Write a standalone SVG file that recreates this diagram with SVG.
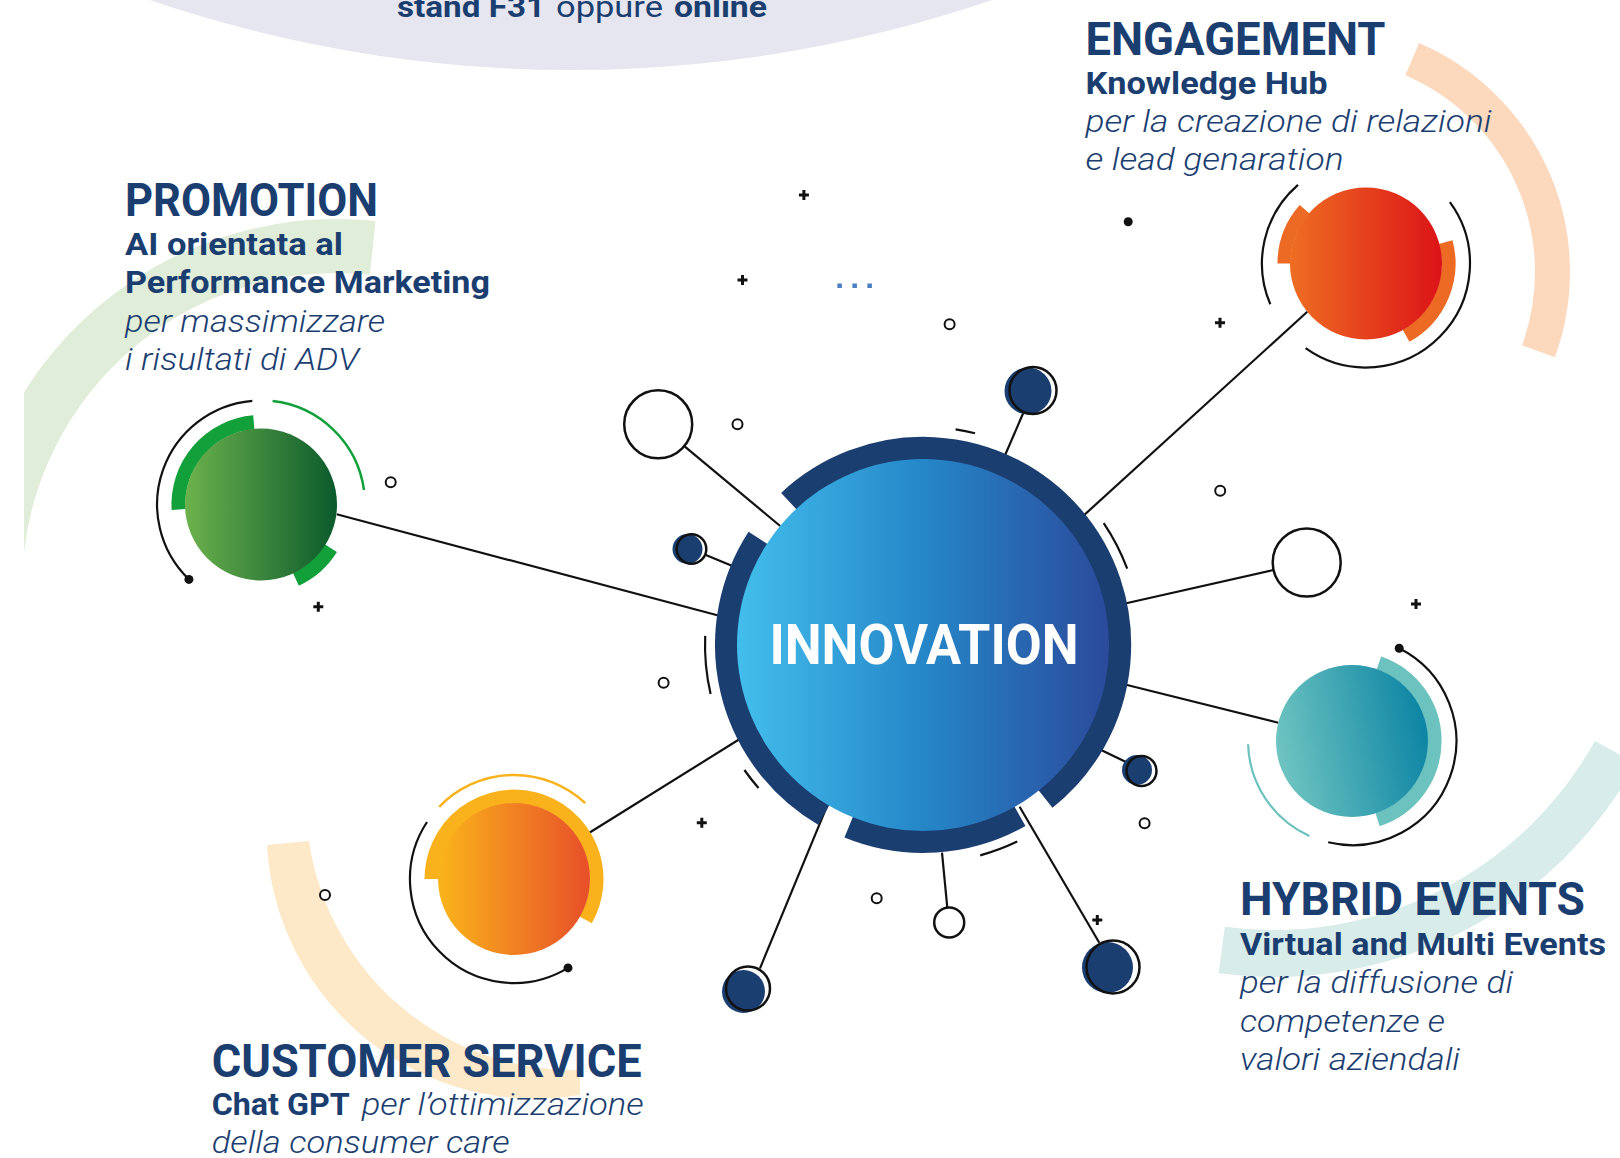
<svg xmlns="http://www.w3.org/2000/svg" width="1620" height="1158" viewBox="0 0 1620 1158">
<defs>
  <linearGradient id="gInnovation" x1="0" y1="0" x2="1" y2="0">
    <stop offset="0" stop-color="#43beec"/>
    <stop offset="0.5" stop-color="#2587c8"/>
    <stop offset="1" stop-color="#2b4a9b"/>
  </linearGradient>
  <linearGradient id="gPromo" x1="0" y1="0" x2="1" y2="0">
    <stop offset="0" stop-color="#6cb24d"/>
    <stop offset="1" stop-color="#0b5a2c"/>
  </linearGradient>
  <linearGradient id="gEngage" x1="0" y1="0" x2="1" y2="0">
    <stop offset="0" stop-color="#ee6e22"/>
    <stop offset="1" stop-color="#dc1318"/>
  </linearGradient>
  <linearGradient id="gHybrid" x1="0" y1="0.6" x2="1" y2="0.4">
    <stop offset="0" stop-color="#70c5c1"/>
    <stop offset="1" stop-color="#0c84a4"/>
  </linearGradient>
  <linearGradient id="gCustomer" x1="0" y1="0" x2="1" y2="0">
    <stop offset="0" stop-color="#fab51a"/>
    <stop offset="1" stop-color="#e74f2a"/>
  </linearGradient>
  <clipPath id="clipLeft"><rect x="24" y="0" width="1596" height="1158"/></clipPath>
  <path id="plus" d="M-5 0H5M0-5V5"/>
</defs>
<style>
  text{font-family:Roboto,"Liberation Sans",sans-serif;fill:#1b3e70}
  .ttl{font-weight:700;font-size:46px}
  .sub{font-weight:700;font-size:32px}
  .desc{font-weight:300;font-style:italic;font-size:32px}
  .line{stroke:#111;stroke-width:2.2;fill:none}
  .thin{stroke:#111;stroke-width:2.2;fill:none}
  .ring{stroke:#1b3e70;stroke-width:23;fill:none}
  .open{fill:#fff;stroke:#111;stroke-width:2.5}
  .dark{fill:#1b3e70}
  .outline{fill:none;stroke:#111;stroke-width:2.5}
  .ring-o{fill:#fff;stroke:#111;stroke-width:2}
  .pl{stroke:#111;stroke-width:3}
  .blk{fill:#111}
</style>

<!-- soft background bands -->
<g id="background">
  <rect x="0" y="0" width="1620" height="1158" fill="#fff"/>
  <circle cx="571" cy="-1231" r="1301" fill="#e5e6ef"/>
  <path d="M372.7 247.9A342 342 0 0 0 -5 588" stroke="#e0edd9" stroke-width="54" fill="none" clip-path="url(#clipLeft)"/>
  <path d="M1412.2 59.2A231.5 231.5 0 0 1 1538.5 351.2" stroke="#fcd9bd" stroke-width="35" fill="none"/>
  <path d="M267 845A268.5 268.5 0 0 0 580 1095L580 1070A267.6 267.6 0 0 1 309 841Z" fill="#fde8c8"/>
  <path d="M1615.5 752.3A390.5 390.5 0 0 1 1221.7 950" stroke="#d8ecea" stroke-width="47" fill="none"/>
  <text y="17" font-size="30"><tspan x="397" font-weight="700" textLength="148" lengthAdjust="spacingAndGlyphs">stand F31</tspan><tspan x="556" font-weight="400" textLength="107" lengthAdjust="spacingAndGlyphs">oppure</tspan><tspan x="674" font-weight="700" textLength="93" lengthAdjust="spacingAndGlyphs">online</tspan></text>
</g>

<!-- scattered decoration -->
<g id="decor">
  <circle class="ring-o" cx="390.7" cy="482.3" r="5"/>
  <circle class="ring-o" cx="737.5" cy="424.3" r="5"/>
  <circle class="ring-o" cx="949.6" cy="324.3" r="5"/>
  <circle class="ring-o" cx="1220.2" cy="490.8" r="5"/>
  <circle class="ring-o" cx="663.6" cy="682.7" r="5"/>
  <circle class="ring-o" cx="1144.6" cy="823.3" r="5"/>
  <circle class="ring-o" cx="876.7" cy="898.3" r="5"/>
  <circle class="ring-o" cx="325" cy="895" r="5"/>
  <circle class="blk" cx="1128.2" cy="221.7" r="4.5"/>
  <use href="#plus" class="pl" x="803.9" y="195"/>
  <use href="#plus" class="pl" x="742.5" y="280"/>
  <use href="#plus" class="pl" x="1220" y="322.7"/>
  <use href="#plus" class="pl" x="318.3" y="606.7"/>
  <use href="#plus" class="pl" x="701.8" y="822.7"/>
  <use href="#plus" class="pl" x="1097.3" y="920"/>
  <use href="#plus" class="pl" x="1416" y="604"/>
  <rect x="837.4" y="283.5" width="4.5" height="4.5" fill="#4a7fc1"/>
  <rect x="852.4" y="283.5" width="4.5" height="4.5" fill="#4a7fc1"/>
  <rect x="867.4" y="283.5" width="4.5" height="4.5" fill="#4a7fc1"/>
</g>

<!-- connectors -->
<g id="connectors">
  <line class="line" x1="336.7" y1="514.3" x2="739" y2="621"/>
  <line class="line" x1="684.3" y1="446.1" x2="780.2" y2="526"/>
  <line class="line" x1="705.2" y1="554.7" x2="751.2" y2="573.8"/>
  <line class="line" x1="1023.7" y1="412" x2="996.8" y2="474.3"/>
  <line class="line" x1="1069.6" y1="528.3" x2="1307.3" y2="311.7"/>
  <line class="line" x1="1273.3" y1="570" x2="1110.7" y2="606.7"/>
  <line class="line" x1="1107" y1="680" x2="1278.3" y2="722.7"/>
  <line class="line" x1="1084" y1="741.7" x2="1128.6" y2="763.3"/>
  <line class="line" x1="1019.6" y1="806.7" x2="1099.3" y2="942.7"/>
  <line class="line" x1="942" y1="852.7" x2="947.3" y2="907.7"/>
  <line class="line" x1="826.8" y1="806.7" x2="760" y2="968.3"/>
  <line class="line" x1="757" y1="728.3" x2="579.3" y2="839"/>
</g>

<!-- small satellite nodes -->
<g id="sat-1"><circle class="open" cx="658.2" cy="424.3" r="34"/></g>
<g id="sat-2"><circle class="dark" cx="687.5" cy="549" r="15"/><circle class="outline" cx="691.5" cy="549" r="14.8"/></g>
<g id="sat-3"><circle class="dark" cx="1028" cy="391" r="23.5"/><circle class="outline" cx="1033" cy="390.5" r="23.5"/></g>
<g id="sat-4"><circle class="open" cx="1306.7" cy="562.5" r="34"/></g>
<g id="sat-5"><circle class="dark" cx="1137" cy="770" r="15"/><circle class="outline" cx="1141.5" cy="771" r="15"/></g>
<g id="sat-6"><circle class="dark" cx="1107.5" cy="967.5" r="25.5"/><circle class="outline" cx="1113" cy="967" r="26.5"/></g>
<g id="sat-7"><circle class="open" cx="949.2" cy="922.5" r="15"/></g>
<g id="sat-8"><circle class="dark" cx="743.5" cy="991.5" r="21.5"/><circle class="outline" cx="748" cy="988.5" r="22"/></g>

<!-- central hub -->
<g id="innovation">
  <path class="ring" d="M789 501.3A196.5 196.5 0 1 1 1045.3 798.8"/>
  <path class="ring" d="M1019.8 816A196.5 196.5 0 0 1 848.8 826.9"/>
  <path class="ring" d="M823.9 814.7A196.5 196.5 0 0 1 758.2 538"/>
  <path class="thin" d="M955.6 429.4A218 218 0 0 1 975 433.3"/>
  <path class="thin" d="M1103.7 523.1A218 218 0 0 1 1127.2 568.7"/>
  <path class="thin" d="M710.6 694A218 218 0 0 1 705.2 635.9"/>
  <path class="thin" d="M758.5 788A218 218 0 0 1 744.4 770"/>
  <path class="thin" d="M1017.2 841.6A218 218 0 0 1 980.2 855.4"/>
  <circle cx="923" cy="645" r="186" fill="url(#gInnovation)"/>
  <text x="924" y="664" text-anchor="middle" font-size="56" font-weight="700" style="fill:#fff" textLength="309" lengthAdjust="spacingAndGlyphs">INNOVATION</text>
</g>

<!-- PROMOTION -->
<g id="promotion">
  <path d="M178.6 509.5A82.5 82.5 0 0 1 253.8 422.3" stroke="#12a03b" stroke-width="14" fill="none"/>
  <path d="M331 548.2A82.5 82.5 0 0 1 295.9 579.3" stroke="#12a03b" stroke-width="14" fill="none"/>
  <path d="M272.6 401.1A104 104 0 0 1 364 490" stroke="#12a03b" stroke-width="2.5" fill="none"/>
  <path class="thin" d="M188.9 579.4A104 104 0 0 1 252.3 400.9"/>
  <circle class="blk" cx="188.9" cy="579.4" r="4.5"/>
  <circle cx="261" cy="504.5" r="76" fill="url(#gPromo)"/>
  <text class="ttl" x="125" y="216" textLength="253" lengthAdjust="spacingAndGlyphs">PROMOTION</text>
  <text class="sub" x="125" y="255" textLength="218" lengthAdjust="spacingAndGlyphs">AI orientata al</text>
  <text class="sub" x="125" y="293.3" textLength="365" lengthAdjust="spacingAndGlyphs">Performance Marketing</text>
  <text class="desc" x="125" y="331.7" textLength="260" lengthAdjust="spacingAndGlyphs">per massimizzare</text>
  <text class="desc" x="125" y="370" textLength="234" lengthAdjust="spacingAndGlyphs">i risultati di ADV</text>
</g>

<!-- ENGAGEMENT -->
<g id="engagement">
  <path d="M1284 263.5A82 82 0 0 1 1304.6 209.2" stroke="#ec6a23" stroke-width="13" fill="none"/>
  <path d="M1445.7 242.1A82.5 82.5 0 0 1 1406 335.7" stroke="#ec6a23" stroke-width="14" fill="none"/>
  <path class="thin" d="M1270.3 304.3A104 104 0 0 1 1298 184.8"/>
  <path class="thin" d="M1449.9 202.1A104 104 0 0 1 1305.6 348.2"/>
  <circle cx="1366" cy="263.5" r="76" fill="url(#gEngage)"/>
  <text class="ttl" x="1085.5" y="55" textLength="300" lengthAdjust="spacingAndGlyphs">ENGAGEMENT</text>
  <text class="sub" x="1085.5" y="94.3" textLength="242" lengthAdjust="spacingAndGlyphs">Knowledge Hub</text>
  <text class="desc" x="1085.5" y="132" textLength="406" lengthAdjust="spacingAndGlyphs">per la creazione di relazioni</text>
  <text class="desc" x="1085.5" y="170" textLength="258" lengthAdjust="spacingAndGlyphs">e lead genaration</text>
</g>

<!-- HYBRID EVENTS -->
<g id="hybrid-events">
  <path d="M1378.9 663A82.5 82.5 0 0 1 1377.5 819.5" stroke="#6cc2be" stroke-width="14" fill="none"/>
  <path class="thin" d="M1399.2 648.3A104 104 0 0 1 1328.2 842.3"/>
  <circle class="blk" cx="1399.2" cy="648.3" r="4.5"/>
  <path d="M1309.4 835.9A104 104 0 0 1 1248.1 744.3" stroke="#6cc2be" stroke-width="2.2" fill="none"/>
  <circle cx="1352" cy="741" r="76" fill="url(#gHybrid)"/>
  <text class="ttl" x="1240" y="915" textLength="345" lengthAdjust="spacingAndGlyphs">HYBRID EVENTS</text>
  <text class="sub" x="1240" y="955" textLength="366" lengthAdjust="spacingAndGlyphs">Virtual and Multi Events</text>
  <text class="desc" x="1240" y="993.3" textLength="273" lengthAdjust="spacingAndGlyphs">per la diffusione di</text>
  <text class="desc" x="1240" y="1031.7" textLength="205" lengthAdjust="spacingAndGlyphs">competenze e</text>
  <text class="desc" x="1240" y="1070" textLength="220" lengthAdjust="spacingAndGlyphs">valori aziendali</text>
</g>

<!-- CUSTOMER SERVICE -->
<g id="customer-service">
  <path d="M431.5 879A82.5 82.5 0 1 1 585.7 919.9" stroke="#f9b21b" stroke-width="14" fill="none"/>
  <path d="M439.2 806.8A104 104 0 0 1 585.2 803.2" stroke="#f9b21b" stroke-width="2.5" fill="none"/>
  <path class="thin" d="M427 822A104 104 0 0 0 568 967.9"/>
  <circle class="blk" cx="568" cy="967.9" r="4.5"/>
  <circle cx="514" cy="879" r="76" fill="url(#gCustomer)"/>
  <text class="ttl" x="211.7" y="1076.7" textLength="430" lengthAdjust="spacingAndGlyphs">CUSTOMER SERVICE</text>
  <text class="sub" x="211.7" y="1115" textLength="138" lengthAdjust="spacingAndGlyphs">Chat GPT</text>
  <text class="desc" x="361.7" y="1115" textLength="282" lengthAdjust="spacingAndGlyphs">per l’ottimizzazione</text>
  <text class="desc" x="211.7" y="1153.3" textLength="298" lengthAdjust="spacingAndGlyphs">della consumer care</text>
</g>
</svg>
